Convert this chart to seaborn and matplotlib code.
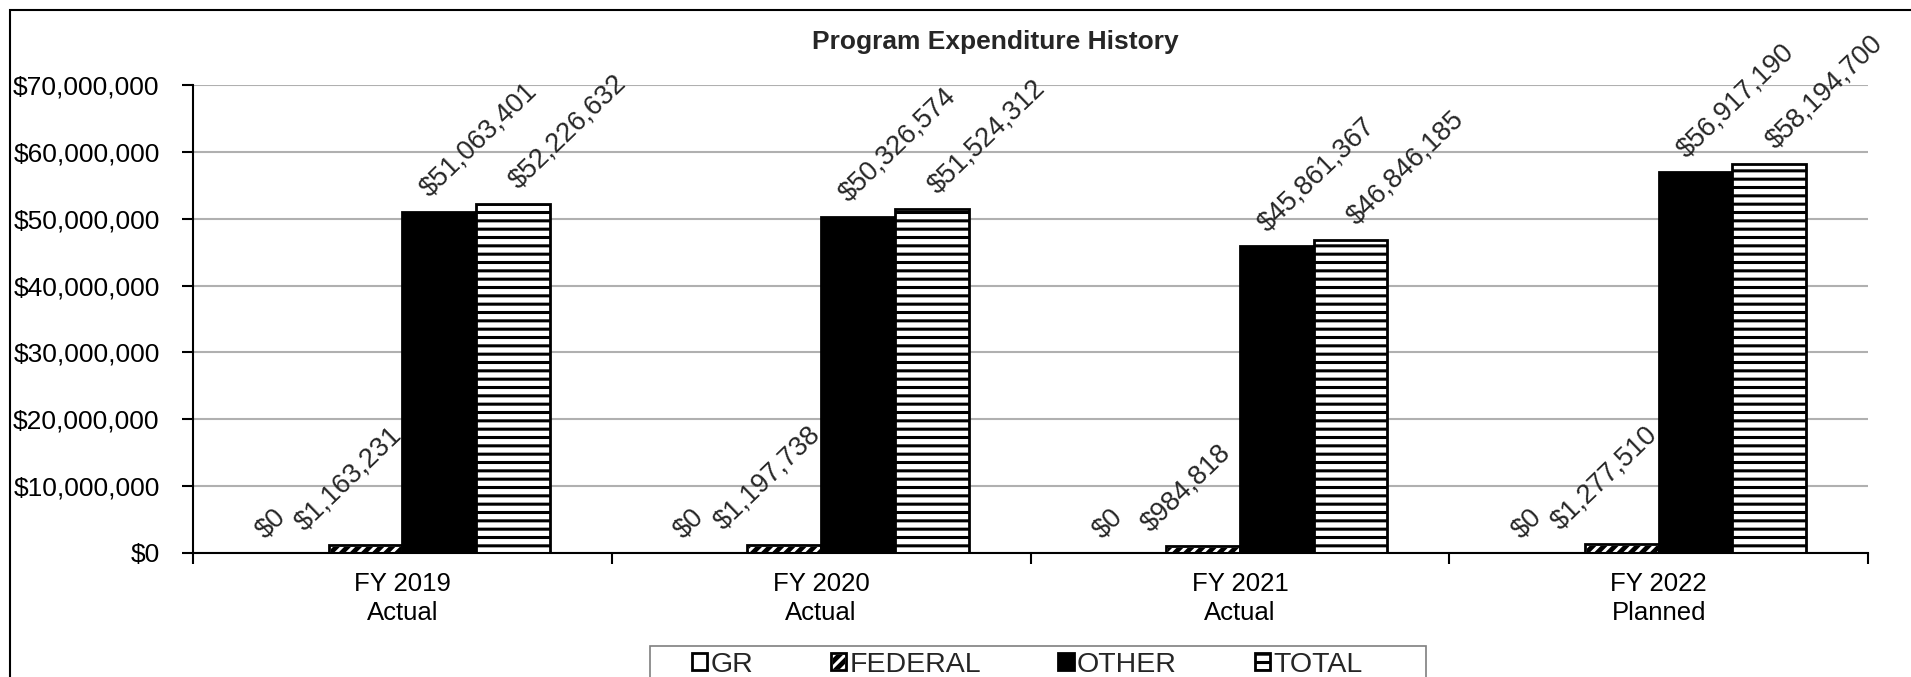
import matplotlib
matplotlib.use('Agg')
import pandas as pd
import seaborn as sns
import matplotlib.pyplot as plt
from matplotlib.patches import Rectangle
from matplotlib.legend_handler import HandlerTuple
from matplotlib.ticker import FuncFormatter, FixedLocator

categories = ['FY 2019\nActual', 'FY 2020\nActual', 'FY 2021\nActual', 'FY 2022\nPlanned']
series = ['GR', 'FEDERAL', 'OTHER', 'TOTAL']
gr = [0, 0, 0, 0]
federal = [1163231, 1197738, 984818, 1277510]
other = [51063401, 50326574, 45861367, 56917190]
total = [52226632, 51524312, 46846185, 58194700]

df = pd.DataFrame({
    'Year': categories * 4,
    'Fund': [s for s in series for _ in categories],
    'Amount': gr + federal + other + total,
})

# look of each fund: face colour, hatch colour, hatch, label x shift (px)
fund_style = {
    'GR': ('white', 'black', '', -21),
    'FEDERAL': ('black', 'white', '///', -17),
    'OTHER': ('black', 'black', '', 40),
    'TOTAL': ('white', 'black', '--', 55),
}

sns.set_theme(style='white')
plt.rcParams['font.family'] = ['Liberation Sans', 'DejaVu Sans']
plt.rcParams['hatch.linewidth'] = 2.2

W, H = 1911, 677
fig = plt.figure(figsize=(W / 100, H / 100), dpi=100)
ax = fig.add_axes([193 / W, 1 - 553 / H, (1868 - 193) / W, (553 - 85) / H])

sns.barplot(data=df, x='Year', y='Amount', hue='Fund', hue_order=series, order=categories,
            width=0.705, gap=0, ax=ax, legend=False, saturation=1,
            palette=[fund_style[s][0] for s in series], edgecolor='black', linewidth=2)

handles = []
for fund, cont in zip(series, ax.containers):
    fc, hc, hatch, dx = fund_style[fund]
    outline = None
    for bar in cont.patches:
        bar.set_facecolor(fc)
        bar.set_hatch(hatch)
        bar.set_edgecolor(hc)
        if hc != 'black':
            # hatch takes the edge colour, so put the black outline back on top
            outline = Rectangle(bar.get_xy(), bar.get_width(), bar.get_height(),
                                fill=False, edgecolor='black', linewidth=2)
            ax.add_patch(outline)
        h = bar.get_height()
        ax.annotate(f'${h:,.0f}', (bar.get_x() + bar.get_width() / 2, h),
                    xytext=(dx * 0.72, 7), textcoords='offset points',
                    ha='center', va='bottom', rotation=44, fontsize=19.5,
                    annotation_clip=False)
    handles.append((cont.patches[0], outline) if outline is not None else cont.patches[0])

ax.set_ylim(0, 70000000)
ax.set_xlim(-0.5, 3.5)
ax.yaxis.set_major_locator(FixedLocator(range(0, 70000001, 10000000)))
ax.yaxis.set_major_formatter(FuncFormatter(lambda v, p: f'${v:,.0f}'))
ax.grid(axis='y', color='#b0b0b0', linewidth=1.5)
ax.set_axisbelow(True)
ax.set_xlabel('')
ax.set_ylabel('')

for side in ['top', 'right']:
    ax.spines[side].set_visible(False)
for side in ['left', 'bottom']:
    ax.spines[side].set_color('black')
    ax.spines[side].set_linewidth(1.5)

ax.tick_params(axis='y', left=True, length=8, width=1.5, color='black', direction='out',
               pad=16, labelsize=19, labelcolor='black')
ax.xaxis.set_minor_locator(FixedLocator([-0.5, 0.5, 1.5, 2.5, 3.5]))
ax.tick_params(axis='x', which='major', bottom=True, length=0, pad=14, labelsize=18.5,
               labelcolor='black')
ax.tick_params(axis='x', which='minor', bottom=True, length=8, width=1.5, color='black',
               direction='out')
for lbl in ax.get_xticklabels():
    lbl.set_linespacing(1.25)

fig.text(995 / W, 1 - 42 / H, 'Program Expenditure History', ha='center', va='center',
         fontsize=19, fontweight='bold')

# legend box drawn separately, entries spread across it
fig.add_artist(Rectangle((650 / W, -0.1), 776 / W, 0.1 + 1 - 646 / H, transform=fig.transFigure,
                         fill=False, edgecolor='#7f7f7f', linewidth=1.2))
leg = fig.legend(handles, series, loc='upper left',
                 bbox_to_anchor=(686 / W, 1 - 646 / H - 0.05, (1368 - 686) / W, 0.05),
                 mode='expand', ncol=4, frameon=False, fontsize=20.5,
                 handlelength=0.55, handleheight=0.55, handletextpad=0.1, borderpad=0.2,
                 borderaxespad=0, handler_map={tuple: HandlerTuple(ndivide=1, pad=0)})

fig.add_artist(Rectangle((10 / W, -0.5), 1.5, 1 - 10 / H + 0.5, transform=fig.transFigure,
                         fill=False, edgecolor='black', linewidth=1.5))

fig.savefig('out.png', dpi=100)
